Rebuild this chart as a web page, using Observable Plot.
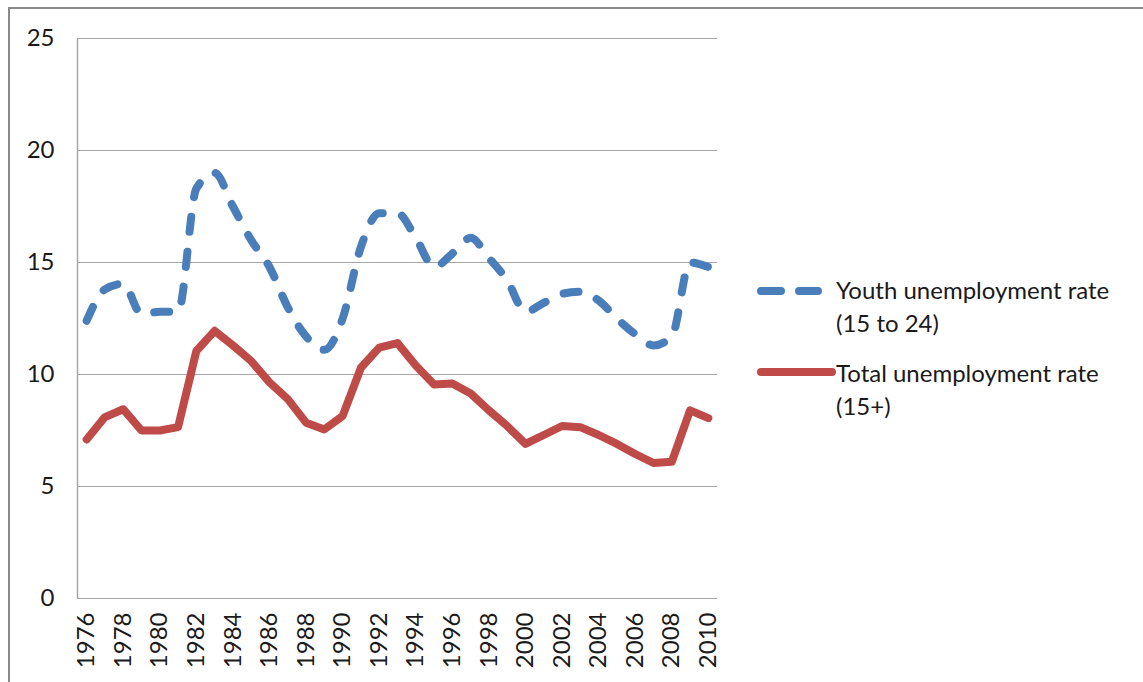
<!DOCTYPE html>
<html>
<head>
<meta charset="utf-8">
<script src="https://cdn.jsdelivr.net/npm/d3@7"></script>
<script src="https://cdn.jsdelivr.net/npm/@observablehq/plot@0.6"></script>
<style>
  html, body { margin: 0; padding: 0; background: #fff; }
  #wrap { position: relative; width: 1143px; height: 682px; overflow: hidden; font-family: Lato, "Open Sans", sans-serif; }
  #frame { position: absolute; left: 8px; top: 7px; width: 1200px; height: 700px;
           border-left: 2px solid #8a8a8a; border-top: 2px solid #8a8a8a; box-sizing: border-box; }
  #chart { position: absolute; left: 0; top: 0; }
  .leg { position: absolute; left: 756px; font-size: 24px; color: #1a1a1a; line-height: 33px; }
  .leg svg { position: absolute; left: 0; }
  .leg div { margin-left: 80px; white-space: nowrap; }
</style>
</head>
<body>
<div id="wrap">
  <div id="frame"></div>
  <div id="chart"></div>
  <div class="leg" id="leg1" style="top:273px;"></div>
  <div class="leg" id="leg2" style="top:356px;"></div>
</div>
<script>
// Categories
const years = [1976,1977,1978,1979,1980,1981,1982,1983,1984,1985,1986,1987,1988,1989,1990,1991,1992,1993,1994,1995,1996,1997,1998,1999,2000,2001,2002,2003,2004,2005,2006,2007,2008,2009,2010];
// Youth unemployment rate (15 to 24)
const youth = [12.4,13.8,14.05,12.7,12.8,12.8,18.3,19.0,17.5,16.0,14.8,13.0,11.7,11.1,12.5,15.7,17.2,17.2,16.1,14.8,15.4,16.1,15.2,14.2,12.8,13.2,13.6,13.7,13.3,12.5,11.8,11.3,11.7,15.0,14.8];
// Total unemployment rate (15+)
const total = [7.1,8.1,8.45,7.5,7.5,7.65,11.05,11.95,11.3,10.6,9.65,8.9,7.85,7.55,8.15,10.3,11.2,11.4,10.4,9.55,9.6,9.15,8.4,7.7,6.9,7.3,7.7,7.65,7.3,6.9,6.45,6.05,6.1,8.4,8.05];
// Tick labels
const yTicks = [0,5,10,15,20,25];
const xTickYears = [1976,1978,1980,1982,1984,1986,1988,1990,1992,1994,1996,1998,2000,2002,2004,2006,2008,2010];
const seriesNames = ["Youth unemployment rate", "(15 to 24)", "Total unemployment rate", "(15+)"];

const rows = years.map((y, i) => ({year: y, youth: youth[i], total: total[i]}));

const blue = "#4A7EBB";
const red = "#BE4B48";
const grid = "#a6a6a6";

const chart = Plot.plot({
  width: 1143,
  height: 682,
  marginLeft: 77,
  marginRight: 426,
  marginTop: 38,
  marginBottom: 84,
  x: {domain: [1975.5, 2010.5]},
  y: {domain: [0, 25]},
  style: {fontFamily: "Lato, 'Open Sans', sans-serif", fontSize: "24px", color: "#1a1a1a", background: "transparent", overflow: "visible"},
  marks: [
    Plot.gridY(yTicks, {stroke: grid, strokeOpacity: 1, strokeWidth: 1.2}),
    Plot.ruleX([1975.5], {stroke: grid, strokeWidth: 1.5}),
    Plot.axisY(yTicks, {tickSize: 0, tickPadding: 23, label: null, fontSize: 24}),
    Plot.axisX(xTickYears, {tickSize: 0, tickPadding: 14, tickRotate: -90, tickFormat: d => String(d), label: null, fontSize: 24, letterSpacing: "-0.5px"}),
    Plot.line(rows, {x: "year", y: "youth", stroke: blue, strokeWidth: 8, strokeDasharray: "15,20", strokeLinecap: "round", strokeLinejoin: "round", curve: "monotone-x"}),
    Plot.line(rows, {x: "year", y: "total", stroke: red, strokeWidth: 8, strokeLinecap: "round", strokeLinejoin: "round"})
  ]
});
document.getElementById("chart").appendChild(chart);

function legend(id, color, dashed, l1, l2, ly) {
  const el = document.getElementById(id);
  const ns = "http://www.w3.org/2000/svg";
  const s = document.createElementNS(ns, "svg");
  s.setAttribute("width", 82); s.setAttribute("height", 14);
  s.style.top = (ly - 7) + "px";
  const ln = document.createElementNS(ns, "line");
  ln.setAttribute("x1", 5); ln.setAttribute("x2", dashed ? 62 : 76);
  ln.setAttribute("y1", 7); ln.setAttribute("y2", 7);
  ln.setAttribute("stroke", color); ln.setAttribute("stroke-width", 8);
  ln.setAttribute("stroke-linecap", "round");
  if (dashed) ln.setAttribute("stroke-dasharray", "20,18");
  s.appendChild(ln);
  el.appendChild(s);
  const a = document.createElement("div"); a.textContent = l1; el.appendChild(a);
  const b = document.createElement("div"); b.textContent = l2; el.appendChild(b);
}
legend("leg1", blue, true, seriesNames[0], seriesNames[1], 18);
legend("leg2", red, false, seriesNames[2], seriesNames[3], 16);
</script>
</body>
</html>
